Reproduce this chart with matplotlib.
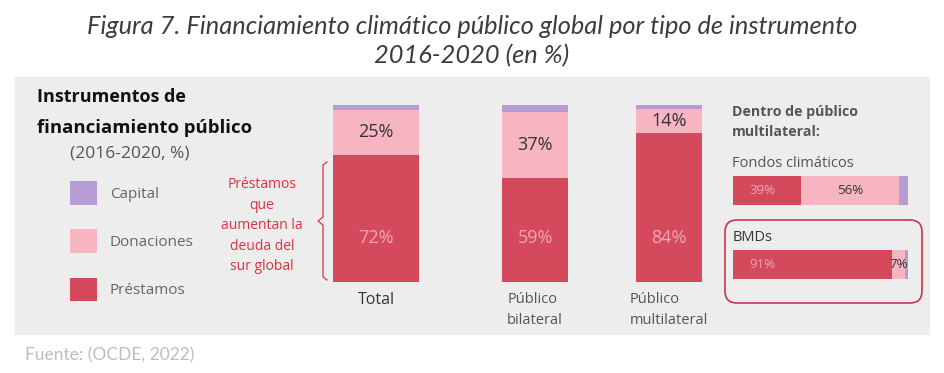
import matplotlib.pyplot as plt
from matplotlib.patches import Rectangle, FancyBboxPatch, Patch
from matplotlib.lines import Line2D
from matplotlib.transforms import IdentityTransform

# datos (en %)
categorias = ["Total", "Público\nbilateral", "Público\nmultilateral"]
prestamos = [72, 59, 84]
donaciones = [25, 37, 14]
capital = [3, 4, 2]

sub_categorias = ["Fondos climáticos", "BMDs"]
sub_prestamos = [39, 91]
sub_donaciones = [56, 7]
sub_capital = [5, 2]

ROJO = "#D5495D"
ROSA = "#F6B5C1"
LILA = "#B79BD3"
FONDO = "#EDEDED"

plt.rcParams['font.family'] = ['Open Sans', 'DejaVu Sans']

W, H = 944, 373
def fx(x):
    return x / W
def fy(y):
    return 1 - y / H

fig = plt.figure(figsize=(W / 100, H / 100), dpi=100)
fig.patch.set_facecolor("white")

# panel gris
fig.patches.append(Rectangle((fx(15), fy(334)), (929 - 15) / W, (334 - 77) / H,
                             transform=fig.transFigure, color=FONDO, zorder=-5))

# titulo
fig.text(0.5, fy(41), "Figura 7. Financiamiento climático público global por tipo de instrumento\n2016-2020 (en %)",
         ha='center', va='center', fontsize=18.3, style='italic', color='#3C3C3C',
         family=['Lato', 'DejaVu Sans'], linespacing=1.3)

fig.text(fx(25), fy(355), "Fuente: (OCDE, 2022)", ha='left', va='center', fontsize=12.5,
         color='#BDBDBD', family=['Lato', 'DejaVu Sans'])

# bloque izquierdo
fig.text(fx(37), fy(97), "Instrumentos de", ha='left', va='center', fontsize=13,
         fontweight='bold', color='#111111')
fig.text(fx(37), fy(128), "financiamiento público", ha='left', va='center', fontsize=13.3,
         fontweight='bold', color='#111111')
fig.text(fx(70), fy(153), "(2016-2020, %)", ha='left', va='center', fontsize=12.5, color='#555555')

handles = [Patch(facecolor=LILA), Patch(facecolor=ROSA), Patch(facecolor=ROJO)]
fig.legend(handles, ["Capital", "Donaciones", "Préstamos"], loc='upper left',
           bbox_to_anchor=(fx(64), fy(175)), frameon=False, fontsize=11,
           handlelength=1.75, handleheight=2.0, labelspacing=1.62, handletextpad=0.85,
           labelcolor='#666666', borderaxespad=0)

# anotación en rojo
fig.text(fx(262), fy(226), "Préstamos\nque\naumentan la\ndeuda del\nsur global", ha='center', va='center',
         fontsize=10, color='#E2303F', linespacing=1.5)
bx = [fx(327), fx(323), fx(323), fx(318), fx(323), fx(323), fx(327)]
by = [fy(162), fy(165), fy(217), fy(221), fy(225), fy(277), fy(280)]
fig.add_artist(Line2D(bx, by, transform=fig.transFigure, color='#E2303F', lw=0.9))

# barras verticales
xpos = [0, 1.85, 3.41]
anchos = [1.0, 0.77, 0.77]
ax = fig.add_axes([324.4 / W, fy(282), 387 / W, 177 / H])
ax.set_xlim(-0.6, 3.9)
ax.set_ylim(0, 100)
ax.axis('off')
b1 = ax.bar(xpos, prestamos, width=anchos, color=ROJO)
base2 = prestamos
b2 = ax.bar(xpos, donaciones, width=anchos, bottom=base2, color=ROSA)
base3 = [p + d for p, d in zip(prestamos, donaciones)]
ax.bar(xpos, capital, width=anchos, bottom=base3, color=LILA)
ax.bar_label(b2, labels=[f"{v}%" for v in donaciones], label_type='center',
             fontsize=13, color='#333333')
for x, v in zip(xpos, prestamos):
    ax.text(x, 25, f"{v}%", ha='center', va='center', fontsize=13, color='#F2A7B5')
for i, (x, c) in enumerate(zip(xpos, categorias)):
    ax.text(x, -5.5, c, ha='center', va='top', fontsize=11.5 if i == 0 else 10.5,
            color='#333333' if i == 0 else '#555555', multialignment='left', linespacing=1.55)

# bloque derecho
fig.text(fx(732), fy(112), "Dentro de público", ha='left', va='center', fontsize=10.2,
         fontweight='bold', color='#555555')
fig.text(fx(732), fy(132), "multilateral:", ha='left', va='center', fontsize=10.2,
         fontweight='bold', color='#555555')

ax2 = fig.add_axes([733 / W, fy(286.7), 175 / W, 118.4 / H])
ax2.set_xlim(0, 100)
ax2.set_ylim(1.3, -0.3)
ax2.axis('off')
ypos = [0, 1]
alto = 0.392
ax2.barh(ypos, sub_prestamos, height=alto, color=ROJO)
h2 = ax2.barh(ypos, sub_donaciones, height=alto, left=sub_prestamos, color=ROSA)
left3 = [p + d for p, d in zip(sub_prestamos, sub_donaciones)]
ax2.barh(ypos, sub_capital, height=alto, left=left3, color=LILA)
ax2.bar_label(h2, labels=[f"{v}%" for v in sub_donaciones], label_type='center',
              fontsize=9.5, color='#333333')
for y, v in zip(ypos, sub_prestamos):
    ax2.text(17, y, f"{v}%", ha='center', va='center', fontsize=9.5, color='#F2A7B5')
ax2.text(-0.3, -0.37, sub_categorias[0], ha='left', va='center', fontsize=10.5, color='#555555')
ax2.text(-0.3, 0.64, sub_categorias[1], ha='left', va='center', fontsize=10.5, color='#333333')

# recuadro rojo redondeado (en píxeles)
caja = FancyBboxPatch((725, H - 303), 197, 83, boxstyle="round,pad=0,rounding_size=12",
                      transform=IdentityTransform(), facecolor='none', edgecolor='#C8354A', lw=1.2)
fig.add_artist(caja)

fig.savefig("out.png", dpi=100)
